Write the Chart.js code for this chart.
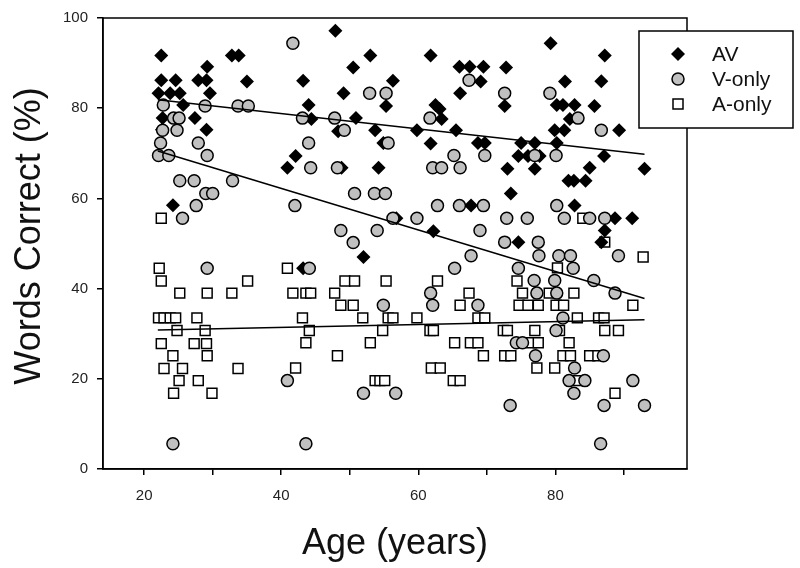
<!DOCTYPE html>
<html>
<head>
<meta charset="utf-8">
<script src="https://cdn.jsdelivr.net/npm/chart.js@4/dist/chart.umd.min.js"></script>
<style>
  html, body { margin: 0; padding: 0; background: #fff; }
  #wrap { width: 800px; height: 568px; }
</style>
</head>
<body>
<div id="wrap"><canvas id="scatter" width="800" height="568"></canvas></div>
<script>
// ---- data ----
const avAge = [22.5, 32.8, 33.8, 29.2, 35.0, 22.5, 24.6, 27.9, 29.1, 22.1, 23.8, 25.2, 29.6, 25.7, 22.7, 27.4, 22.6, 29.1, 24.2,
    47.9, 53.0, 61.8, 50.5, 43.2, 56.3, 49.1, 55.3, 44.0, 44.4, 50.9, 62.5, 63.1, 63.4, 48.3, 53.7, 59.8, 54.9, 61.8, 42.1, 40.9,
    48.8, 54.2, 56.8, 62.2, 52.0, 43.2,
    79.3, 87.2, 66.0, 67.5, 69.5, 72.8, 69.1, 81.4, 86.7, 66.1, 72.6, 80.2, 81.1, 82.8, 85.7, 82.1, 65.5, 79.9, 81.3, 89.3,
    68.7, 69.7, 75.0, 77.0, 80.2, 74.6, 76.0, 77.7, 87.1, 73.0, 77.0, 85.0, 81.9, 82.7, 84.4, 73.5, 67.7, 82.8, 88.7, 91.2,
    87.2, 86.7, 74.6, 93.0];
const avPct = [91.7, 91.7, 91.7, 89.2, 85.9, 86.2, 86.2, 86.2, 86.2, 83.3, 83.3, 83.3, 83.3, 80.7, 77.8, 77.8, 75.2, 75.2, 58.5,
    97.2, 91.7, 91.7, 89.0, 86.1, 86.1, 83.3, 80.5, 80.7, 77.6, 77.8, 80.7, 79.8, 77.6, 74.9, 75.1, 75.1, 72.3, 72.2, 69.4, 66.8,
    66.8, 66.8, 55.6, 52.7, 47.0, 44.5,
    94.4, 91.7, 89.2, 89.2, 89.2, 89.0, 85.9, 85.9, 86.0, 83.3, 80.5, 80.7, 80.7, 80.7, 80.5, 77.6, 75.1, 75.1, 75.1, 75.1,
    72.3, 72.3, 72.3, 72.3, 72.3, 69.4, 69.4, 69.4, 69.4, 66.6, 66.6, 66.8, 63.9, 63.9, 63.9, 61.1, 58.4, 58.4, 55.6, 55.6,
    52.9, 50.3, 50.3, 66.6];

const vAge = [22.8, 28.9, 33.7, 35.2, 24.3, 25.1, 22.7, 24.8, 22.4, 27.9, 22.1, 23.6, 29.2, 25.2, 27.3, 32.9, 29.0, 30.0, 27.6, 25.6,
    41.7, 52.9, 55.3, 43.1, 47.8, 61.7, 49.2, 44.0, 55.6, 65.2, 44.3, 48.2, 62.1, 63.4, 50.7, 53.6, 55.2, 42.0, 62.8, 56.3,
    59.8, 48.7, 54.0, 50.5,
    67.4, 72.6, 79.2, 83.3, 86.7, 69.7, 77.0, 80.1, 66.1, 66.0, 69.5, 80.2, 72.9, 75.9, 81.3, 85.0, 87.2, 69.0, 72.6, 77.5,
    67.7, 77.6, 80.5, 82.2, 89.2, 65.3, 74.6, 82.6, 76.9, 79.9, 85.6, 77.3, 80.2, 88.7, 68.7, 81.1, 80.1, 74.3, 75.2, 77.1,
    87.0, 82.8, 82.0, 84.3, 91.3, 82.7, 73.4, 87.1, 86.6,
    44.1, 61.8, 62.1, 54.9, 40.9, 52.0, 56.7, 43.6, 29.2, 24.2, 93.0];
const vPct = [80.7, 80.5, 80.5, 80.5, 77.8, 77.8, 75.1, 75.1, 72.3, 72.3, 69.5, 69.5, 69.5, 63.9, 63.9, 63.9, 61.1, 61.1, 58.4, 55.6,
    94.4, 83.3, 83.3, 77.8, 77.8, 77.8, 75.1, 72.3, 72.3, 69.5, 66.8, 66.8, 66.8, 66.8, 61.1, 61.1, 61.1, 58.4, 58.4, 55.6,
    55.6, 52.9, 52.9, 50.2,
    86.2, 83.3, 83.3, 77.8, 75.1, 69.5, 69.5, 69.5, 66.8, 58.4, 58.4, 58.4, 55.6, 55.6, 55.6, 55.6, 55.6, 52.9, 50.3, 50.3,
    47.3, 47.3, 47.3, 47.3, 47.3, 44.5, 44.5, 44.5, 41.8, 41.8, 41.8, 39.0, 39.0, 39.0, 36.3, 33.5, 30.7, 28.0, 28.0, 25.1,
    25.1, 22.4, 19.6, 19.6, 19.6, 16.8, 14.1, 14.1, 5.6,
    44.5, 39.0, 36.3, 36.3, 19.6, 16.8, 16.8, 5.6, 44.5, 5.6, 14.1];

const aAge = [22.5, 84.0, 87.2,
    22.2, 22.5, 35.1, 25.2, 29.2, 32.8, 22.1, 22.9, 23.8, 24.6, 27.7, 24.8, 28.9, 22.5, 27.3, 29.1, 24.2, 29.2, 22.9, 25.6,
    33.7, 25.1, 27.9, 24.3, 29.9,
    40.9, 49.3, 50.7, 55.3, 62.8, 41.7, 43.6, 44.3, 47.8, 48.7, 50.5, 43.1, 51.9, 55.6, 56.3, 59.8, 44.1, 54.8, 61.7, 62.2,
    43.6, 53.0, 48.2, 42.1, 61.9, 63.2, 53.7, 54.4, 55.1,
    80.3, 74.4, 67.4, 75.2, 79.1, 82.7, 66.1, 74.7, 76.0, 77.5, 80.1, 81.2, 91.3, 68.7, 69.7, 83.2, 86.3, 87.1, 72.4, 73.0,
    77.0, 80.6, 87.2, 89.2, 65.3, 67.6, 68.7, 76.5, 77.5, 82.0, 69.5, 72.6, 73.5, 81.1, 82.2, 85.0, 86.2, 77.3, 79.9, 65.1,
    66.1, 83.2, 88.7, 92.8];
const aPct = [55.6, 55.6, 50.3,
    44.5, 41.7, 41.7, 39.0, 39.0, 39.0, 33.5, 33.5, 33.5, 33.5, 33.5, 30.7, 30.7, 27.8, 27.8, 27.8, 25.1, 25.1, 22.3, 22.3,
    22.3, 19.6, 19.6, 16.8, 16.8,
    44.5, 41.7, 41.7, 41.7, 41.7, 39.0, 39.0, 39.0, 39.0, 36.3, 36.3, 33.5, 33.5, 33.5, 33.5, 33.5, 30.7, 30.7, 30.7, 30.7,
    28.0, 28.0, 25.1, 22.4, 22.4, 22.4, 19.6, 19.6, 19.6,
    44.6, 41.7, 39.0, 39.0, 39.0, 39.0, 36.3, 36.3, 36.3, 36.3, 36.3, 36.3, 36.3, 33.5, 33.5, 33.5, 33.5, 33.5, 30.7, 30.7,
    30.7, 30.7, 30.7, 30.7, 28.0, 28.0, 28.0, 28.0, 28.0, 28.0, 25.1, 25.1, 25.1, 25.1, 25.1, 25.1, 25.1, 22.4, 22.4, 19.6,
    19.6, 19.6, 16.8, 47.0];

// regression lines (end points)
const fitAge = [22, 93];
const avFit = [81.9, 69.8];
const vFit = [70.5, 37.8];
const aFit = [30.8, 33.1];

const xTicks = [20, 30, 40, 50, 60, 70, 80, 90];
const seriesNames = ['AV', 'V-only', 'A-only'];

function pts(xs, ys) {
    return xs.map((x, i) => ({ x: x, y: ys[i] }));
}

const FONT = '"Liberation Sans", Arial, sans-serif';

function drawMarker(ctx, kind, x, y) {
    ctx.save();
    ctx.lineWidth = 1.5;
    ctx.strokeStyle = '#000';
    ctx.beginPath();
    if (kind === 0) {
        ctx.moveTo(x - 7, y); ctx.lineTo(x, y - 7); ctx.lineTo(x + 7, y); ctx.lineTo(x, y + 7);
        ctx.closePath();
        ctx.fillStyle = '#000';
        ctx.fill();
    } else if (kind === 1) {
        ctx.arc(x, y, 6, 0, Math.PI * 2);
        ctx.fillStyle = '#c0c0c0';
        ctx.fill(); ctx.stroke();
    } else {
        ctx.rect(x - 5, y - 5, 10, 10);
        ctx.fillStyle = '#fff';
        ctx.fill(); ctx.stroke();
    }
    ctx.restore();
}

const decor = {
    id: 'decor',
    afterDraw(chart) {
        const ctx = chart.ctx;
        const a = chart.chartArea;
        ctx.save();
        // frame
        ctx.strokeStyle = '#000';
        ctx.lineWidth = 1.5;
        ctx.strokeRect(a.left, a.top, a.right - a.left, a.bottom - a.top);

        // axis titles
        ctx.fillStyle = '#111';
        ctx.font = '36px ' + FONT;
        ctx.textAlign = 'center';
        ctx.textBaseline = 'middle';
        ctx.fillText('Age (years)', (a.left + a.right) / 2, 544);
        ctx.translate(30, 236);
        ctx.rotate(-Math.PI / 2);
        ctx.fillText('Words Correct (%)', 0, 0);
        ctx.restore();

        // legend box
        ctx.save();
        ctx.fillStyle = '#fff';
        ctx.fillRect(639, 31, 154, 97);
        ctx.strokeStyle = '#000';
        ctx.lineWidth = 1.5;
        ctx.strokeRect(639, 31, 154, 97);
        ctx.font = '21px ' + FONT;
        ctx.fillStyle = '#111';
        ctx.textAlign = 'left';
        ctx.textBaseline = 'middle';
        seriesNames.forEach((name, i) => {
            const y = 54 + i * 25;
            drawMarker(ctx, i, 678, y);
            ctx.fillText(name, 712, y + 1);
        });
        ctx.restore();
    }
};

const ctx = document.getElementById('scatter').getContext('2d');
new Chart(ctx, {
    type: 'scatter',
    data: {
        datasets: [
            {
                label: 'AV fit', type: 'line', data: pts(fitAge, avFit), order: 0,
                borderColor: '#000', borderWidth: 1.5, pointRadius: 0, fill: false
            },
            {
                label: 'V-only fit', type: 'line', data: pts(fitAge, vFit), order: 0,
                borderColor: '#000', borderWidth: 1.5, pointRadius: 0, fill: false
            },
            {
                label: 'A-only fit', type: 'line', data: pts(fitAge, aFit), order: 0,
                borderColor: '#000', borderWidth: 1.5, pointRadius: 0, fill: false
            },
            {
                label: 'V-only', data: pts(vAge, vPct), order: 1,
                pointStyle: 'circle', pointRadius: 6, borderWidth: 1.5,
                backgroundColor: '#c0c0c0', borderColor: '#000'
            },
            {
                label: 'AV', data: pts(avAge, avPct), order: 2,
                pointStyle: 'rectRot', pointRadius: 7, borderWidth: 0,
                backgroundColor: '#000', borderColor: '#000'
            },
            {
                label: 'A-only', data: pts(aAge, aPct), order: 3,
                pointStyle: 'rect', pointRadius: 7, borderWidth: 1.5,
                backgroundColor: '#fff', borderColor: '#000'
            }
        ]
    },
    options: {
        responsive: false,
        animation: false,
        devicePixelRatio: 1,
        layout: { padding: { top: 14, right: 113, left: 0, bottom: 0 } },
        plugins: { legend: { display: false }, tooltip: { enabled: false } },
        scales: {
            x: {
                type: 'linear',
                min: 14,
                max: 99.2,
                afterBuildTicks: (scale) => { scale.ticks = xTicks.map(v => ({ value: v })); },
                afterFit: (scale) => { scale.height = 99; },
                ticks: {
                    autoSkip: false,
                    maxRotation: 0,
                    padding: 12,
                    color: '#222',
                    font: { family: FONT, size: 15 },
                    callback: (v) => (v % 20 === 0 ? v : '')
                },
                grid: { drawOnChartArea: false, drawTicks: true, tickLength: 6, color: '#000', lineWidth: 1.5 },
                border: { display: true, color: '#000', width: 1.5 }
            },
            y: {
                min: 0,
                max: 100,
                afterFit: (scale) => { scale.width = 103; },
                ticks: {
                    stepSize: 20,
                    padding: 9,
                    color: '#222',
                    font: { family: FONT, size: 15 }
                },
                grid: { drawOnChartArea: false, drawTicks: true, tickLength: 6, color: '#000', lineWidth: 1.5 },
                border: { display: true, color: '#000', width: 1.5 }
            }
        }
    },
    plugins: [decor]
});
</script>
</body>
</html>
